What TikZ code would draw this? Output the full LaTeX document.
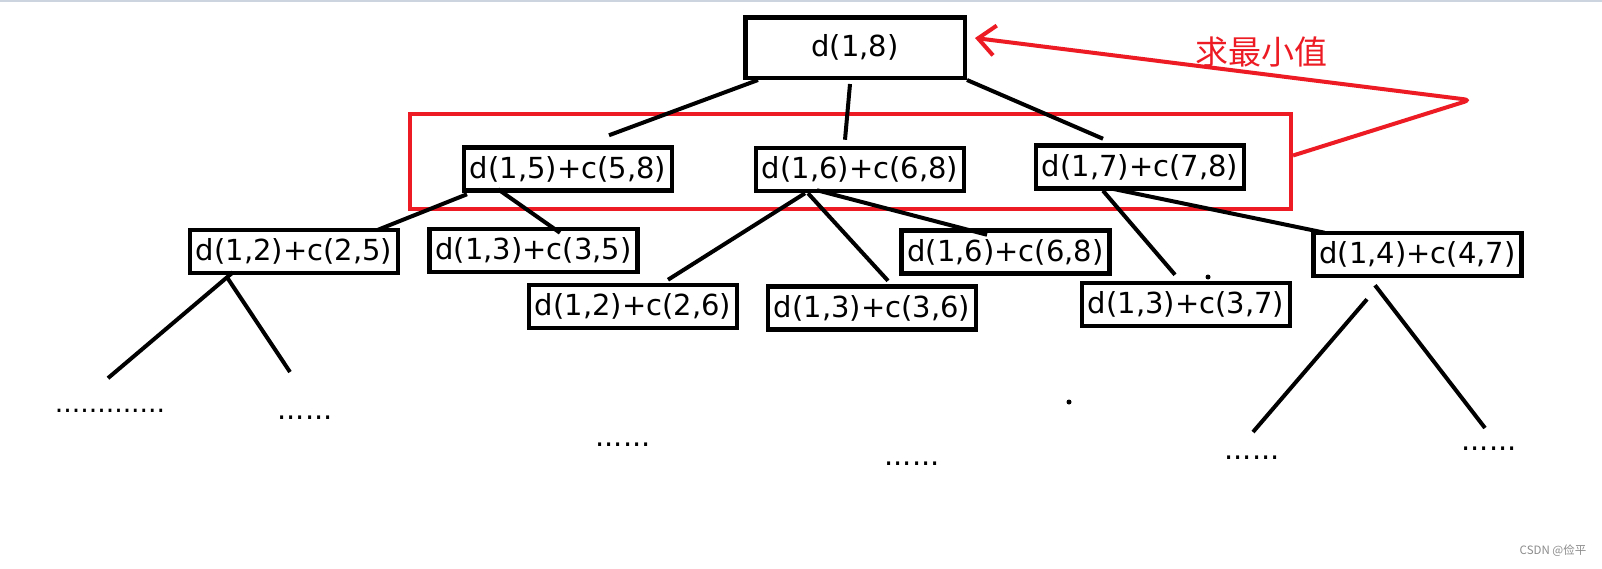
\documentclass[tikz,border=0pt]{standalone}
\usepackage{fontspec}
\usepackage{tikz}
\usetikzlibrary{arrows.meta}
\newfontfamily\termfont{DejaVu Sans}
\newfontfamily\cjkfont{Noto Sans CJK SC}
\definecolor{paintred}{RGB}{237,28,36}
\definecolor{topline}{RGB}{204,212,224}

\begin{document}
\begin{tikzpicture}[x=1pt, y=-1pt,
    termnode/.style={draw, line width=4.5pt, inner sep=0pt, minimum width=208pt, minimum height=43pt, font=\termfont\fontsize{29}{32}\selectfont},
    rootnode/.style={termnode, minimum width=219.5pt, minimum height=60.5pt},
    dotnode/.style={inner sep=0pt, font=\termfont\fontsize{29}{32}\selectfont},
    minbox/.style={draw=paintred, line width=4pt, inner sep=0pt, minimum width=881pt, minimum height=95pt},
    treeline/.style={line width=4pt},]
    \useasboundingbox (0,0) rectangle (1602,568);
    \fill[white] (0,0) rectangle (1602,568);
    \fill[topline] (0,0) rectangle (1602,2);
    % nodes
    \node[rootnode]  (root)  at (855,47.5)   {d(1,8)};
    \node[minbox]    (minset) at (850.5,161.5) {};
    \node[termnode]  (c1)    at (568,169)    {d(1,5)+c(5,8)};
    \node[termnode]  (c2)    at (860,169.5)  {d(1,6)+c(6,8)};
    \node[termnode]  (c3)    at (1140,167)   {d(1,7)+c(7,8)};
    \node[termnode]  (g1)    at (294,251.5)  {d(1,2)+c(2,5)};
    \node[termnode]  (g2)    at (533.5,250.5) {d(1,3)+c(3,5)};
    \node[termnode]  (g3)    at (633,306.5)  {d(1,2)+c(2,6)};
    \node[termnode]  (g4)    at (872,308)    {d(1,3)+c(3,6)};
    \node[termnode]  (g5)    at (1005.5,252) {d(1,6)+c(6,8)};
    \node[termnode]  (g6)    at (1186,304.5) {d(1,3)+c(3,7)};
    \node[termnode]  (g7)    at (1417.5,254.5) {d(1,4)+c(4,7)};
    \node[dotnode, font=\termfont\fontsize{26.7}{30}\selectfont] (leafA) at (110,411) {.............};
    \node[dotnode]   (leafB) at (305,418)    {......};
    \node[dotnode]   (leafC) at (623,445)    {......};
    \node[dotnode]   (leafD) at (912,464)    {......};
    \node[dotnode]   (leafE) at (1252,458)   {......};
    \node[dotnode]   (leafF) at (1489,449)   {......};
    \node[text=paintred, font=\cjkfont\fontsize{33}{36}\selectfont] (minlabel) at (1261,52) {求最小值};
    \node[text=black!45, font=\cjkfont\fontsize{11.5}{13}\selectfont] (mark) at (1553,551) {CSDN @俭平};
    \coordinate (bend) at (1470,100);
    % lines
    \draw[treeline] ([xshift=-97pt]root.south) -- ([xshift=41pt,yshift=10pt]c1.north);
    \draw[treeline] ([xshift=-5pt,yshift=-4pt]root.south) -- ([xshift=-15pt,yshift=6pt]c2.north);
    \draw[treeline] (root.south east) -- ([xshift=-37pt,yshift=4.5pt]c3.north);
    \draw[treeline] ([xshift=-101pt,yshift=-1.5pt]c1.south) -- ([xshift=84pt,yshift=-2pt]g1.north);
    \draw[treeline] ([xshift=-70pt,yshift=3.5pt]c1.south) -- ([xshift=26.5pt,yshift=-6pt]g2.north);
    \draw[treeline] ([xshift=-55pt]c2.south) -- ([xshift=35pt,yshift=3pt]g3.north);
    \draw[treeline] ([xshift=-52pt]c2.south) -- ([xshift=16pt,yshift=3.5pt]g4.north);
    \draw[treeline] ([xshift=-43pt,yshift=3pt]c2.south) -- ([xshift=-18.5pt,yshift=-6.5pt]g5.north);
    \draw[treeline] ([xshift=-37pt]c3.south) -- ([xshift=-11pt,yshift=6pt]g6.north);
    \draw[treeline] ([xshift=-30pt,yshift=2.5pt]c3.south) -- ([xshift=13.5pt,yshift=-2pt]g7.north west);
    \draw[treeline] ([xshift=-61pt,yshift=3pt]g1.south) -- ([xshift=-2pt,yshift=31pt]leafA.north);
    \draw[treeline] ([xshift=-67pt,yshift=-2pt]g1.south) -- ([xshift=-15pt,yshift=44pt]leafB.north);
    \draw[treeline] ([xshift=-50.5pt,yshift=-21pt]g7.south) -- ([xshift=1pt,yshift=24pt]leafE.north);
    \draw[treeline] ([xshift=-42.5pt,yshift=-7pt]g7.south) -- ([xshift=-4pt,yshift=19pt]leafF.north);
    \fill (1208,277) circle (2.5pt);
    \fill (1069,402) circle (2.5pt);
    % minimum arrow
    \draw[paintred, line width=4pt, rounded corners=6pt, -{Straight Barb[length=17pt, width=30pt]}] ([yshift=6pt]minset.east) -- (bend) -- ([xshift=8pt,yshift=9.5pt]root.east);
\end{tikzpicture}
\end{document}
